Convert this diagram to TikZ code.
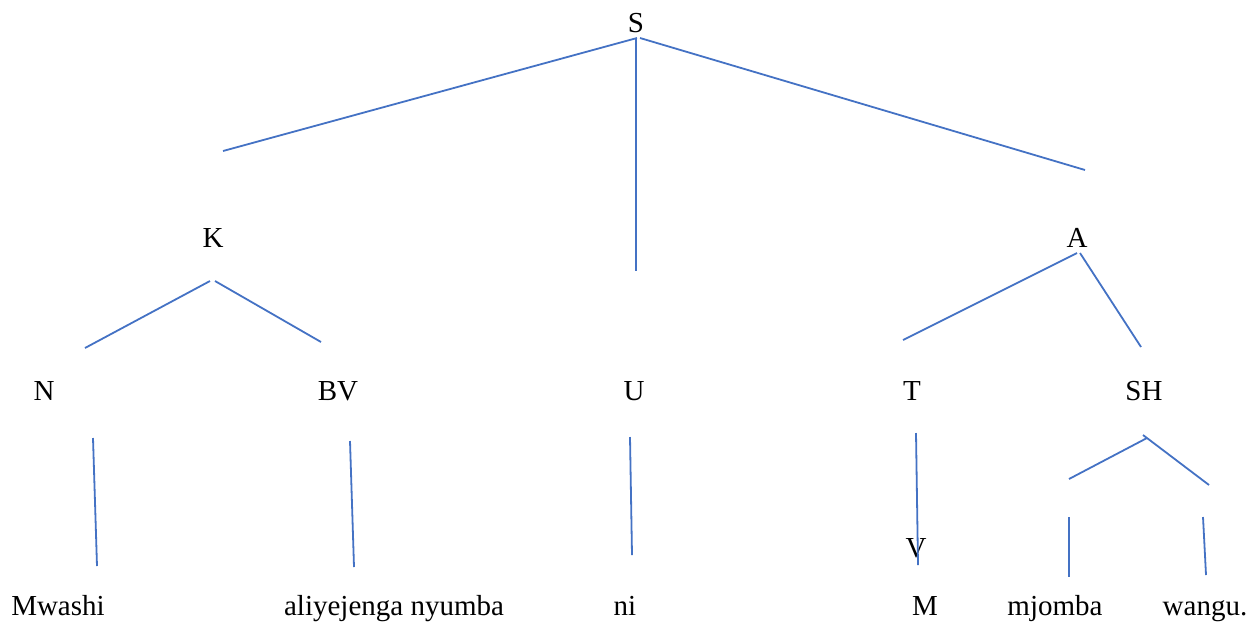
\documentclass[tikz,border=0pt]{standalone}
\usepackage{fontspec}
\setmainfont{Liberation Serif}
\definecolor{branch}{HTML}{4472C4}
\begin{document}
\begin{tikzpicture}[x=1pt,y=-1pt,
  lbl/.style={anchor=base,inner sep=0pt,font=\fontsize{29}{32}\selectfont},
  br/.style={draw=branch,line width=1.8pt}]
\useasboundingbox (0,0) rectangle (1257,622);
% category labels
\node[lbl] (S)  at (636,32)  {S};
\node[lbl] (K)  at (213,247) {K};
\node[lbl] (A)  at (1077,247) {A};
\node[lbl] (N)  at (44,400)  {N};
\node[lbl] (BV) at (338,400) {BV};
\node[lbl] (U)  at (634,400) {U};
\node[lbl] (T)  at (912,400) {T};
\node[lbl] (SH) at (1144,400) {SH};
\node[lbl] (V)  at (916,557) {V};
% words
\node[lbl] (w1) at (58,615)   {Mwashi};
\node[lbl] (w2) at (394,615)  {aliyejenga nyumba};
\node[lbl] (w3) at (625,615)  {ni};
\node[lbl] (w4) at (925,615)  {M};
\node[lbl] (w5) at (1055,615) {mjomba};
\node[lbl] (w6) at (1205,615) {wangu.};
% branch end points
\coordinate (s0) at (637,38);   \coordinate (s1) at (223,151);
\coordinate (s2) at (636,38);   \coordinate (s3) at (636,271);
\coordinate (s4) at (640,38);   \coordinate (s5) at (1085,170);
\coordinate (k0) at (210,281);  \coordinate (k1) at (85,348);
\coordinate (k2) at (215,281);  \coordinate (k3) at (321,342);
\coordinate (a0) at (1077,253); \coordinate (a1) at (903,340);
\coordinate (a2) at (1080,253); \coordinate (a3) at (1141,347);
\coordinate (n0) at (93,438);   \coordinate (n1) at (97,566);
\coordinate (b0) at (350,441);  \coordinate (b1) at (354,567);
\coordinate (u0) at (630,437);  \coordinate (u1) at (632,555);
\coordinate (t0) at (916,433);  \coordinate (t1) at (918,565);
\coordinate (h0) at (1147,438); \coordinate (h1) at (1069,479);
\coordinate (h2) at (1143,435); \coordinate (h3) at (1209,485);
\coordinate (m0) at (1069,517); \coordinate (m1) at (1069,577);
\coordinate (g0) at (1203,517); \coordinate (g1) at (1206,575);
% branches
\draw[br] (s0) -- (s1);
\draw[br] (s2) -- (s3);
\draw[br] (s4) -- (s5);
\draw[br] (k0) -- (k1);
\draw[br] (k2) -- (k3);
\draw[br] (a0) -- (a1);
\draw[br] (a2) -- (a3);
\draw[br] (n0) -- (n1);
\draw[br] (b0) -- (b1);
\draw[br] (u0) -- (u1);
\draw[br] (t0) -- (t1);
\draw[br] (h0) -- (h1);
\draw[br] (h2) -- (h3);
\draw[br] (m0) -- (m1);
\draw[br] (g0) -- (g1);
\end{tikzpicture}
\end{document}
